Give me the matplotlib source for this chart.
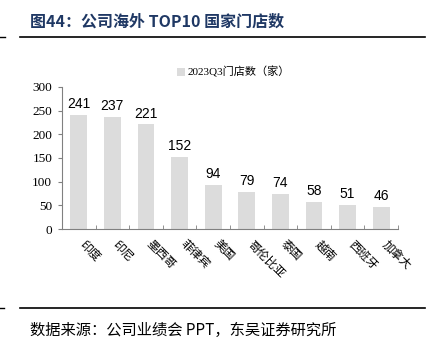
import numpy as np
import matplotlib.pyplot as plt
from matplotlib.lines import Line2D

plt.rcParams['font.family'] = ['Liberation Serif', 'Noto Sans CJK SC', 'DejaVu Sans']

countries = ['印度', '印尼', '墨西哥', '菲律宾', '美国', '哥伦比亚', '泰国', '越南', '西班牙', '加拿大']
stores = [241, 237, 221, 152, 94, 79, 74, 58, 51, 46]
yticks = [0, 50, 100, 150, 200, 250, 300]

fig = plt.figure(figsize=(4.38, 3.56), dpi=100)
ax = fig.add_axes([62/438, 1-229/356, 336/438, 142/356])

x = np.arange(len(countries))
ax.bar(x, stores, width=0.5, color='#dcdcdc', label='2023Q3门店数（家）')
for xi, v in zip(x, stores):
    ax.text(xi, v + 8, str(v), ha='center', va='bottom', fontsize=10,
            family=['Liberation Sans', 'DejaVu Sans'])

ax.set_xlim(-0.5, len(countries) - 0.5)
ax.set_ylim(0, 300)
ax.set_yticks(yticks)
ax.tick_params(axis='y', labelsize=9.5, length=3, color='#808080', pad=4)
ax.set_xticks(x)
ax.set_xticklabels([])
ax.tick_params(axis='x', which='major', length=0)
ax.set_xticks(np.arange(len(countries)) + 0.5, minor=True)
ax.tick_params(axis='x', which='minor', direction='in', length=3, color='#808080')
for i, c in enumerate(countries):
    ax.text(i + 0.08, -28, c, rotation=-45, rotation_mode='anchor', ha='left', va='center',
            fontsize=8.5, family=['Noto Sans CJK SC'], transform=ax.transData)

for s in ['top', 'right']:
    ax.spines[s].set_visible(False)
for s in ['left', 'bottom']:
    ax.spines[s].set_color('#808080')
    ax.spines[s].set_linewidth(0.8)

leg = ax.legend(loc='center', bbox_to_anchor=(0.51, 1.105), frameon=False,
                handlelength=0.7, handleheight=0.7, handletextpad=0.2,
                prop={'family': ['Liberation Serif', 'Noto Sans CJK SC'], 'size': 8})

fig.text(30/438, 1-22/356, '图44：公司海外 TOP10 国家门店数', fontsize=11.5, fontweight='bold',
         color='#1f3864', va='center', ha='left', family=['Noto Sans CJK SC'])
fig.add_artist(Line2D([20/438, 425/438], [1-37/356, 1-37/356], color='black', lw=1.2))
fig.add_artist(Line2D([0, 5/438], [1-37/356, 1-37/356], color='black', lw=1.0))
fig.add_artist(Line2D([20/438, 425/438], [1-308/356, 1-308/356], color='black', lw=1.2))
fig.add_artist(Line2D([0, 4/438], [1-308/356, 1-308/356], color='black', lw=1.0))
fig.text(30/438, 1-330/356, '数据来源：公司业绩会 PPT，东吴证券研究所', fontsize=11,
         va='center', ha='left', family=['Noto Sans CJK SC'])

fig.savefig('out.png', dpi=100)
